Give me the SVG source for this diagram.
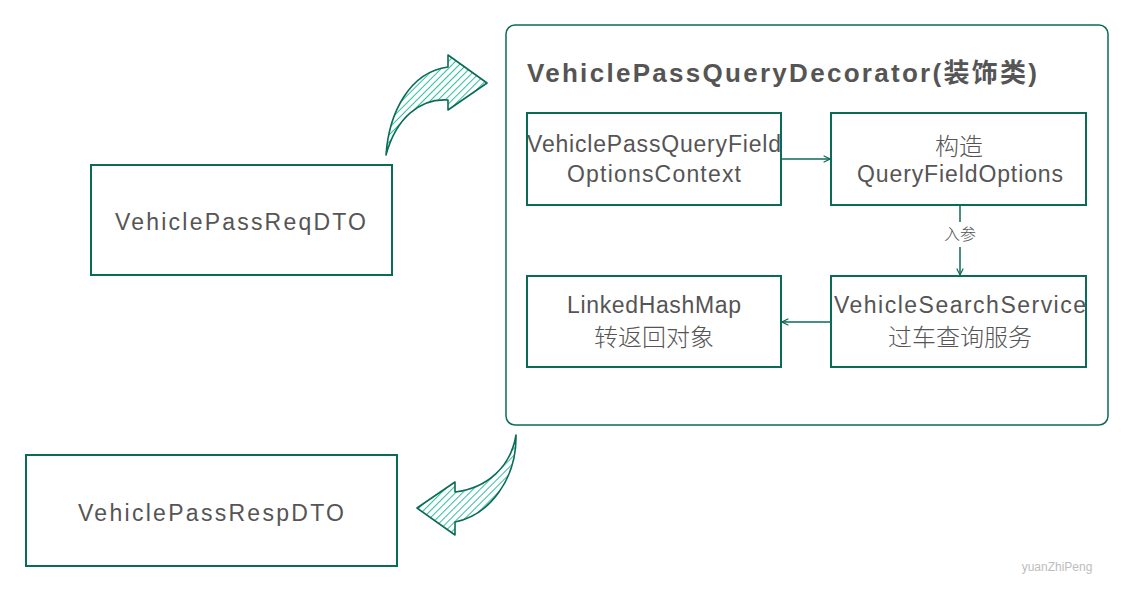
<svg xmlns="http://www.w3.org/2000/svg" width="1132" height="602" viewBox="0 0 1132 602">
<defs>
<style>
.box{fill:#ffffff;stroke:#0b6b57;stroke-width:2}
.t{font-family:"Liberation Sans","Noto Sans CJK SC",sans-serif;fill:#555555;font-size:23px}
.cjk{font-family:"Noto Sans CJK SC","Liberation Sans",sans-serif;fill:#555555;font-size:24px;font-weight:300}
.con{fill:none;stroke:#0b6b57;stroke-width:1.5}
.big{fill:url(#hatch);stroke:#0b6b57;stroke-width:1.6;stroke-linejoin:round}
</style>
<pattern id="hatch" patternUnits="userSpaceOnUse" width="5" height="5" patternTransform="rotate(45)">
<line x1="0" y1="0" x2="0" y2="5" stroke="#30c29c" stroke-width="2"/>
</pattern>
<marker id="arr" viewBox="0 0 10 10" refX="9" refY="5" markerWidth="8" markerHeight="8" markerUnits="userSpaceOnUse" orient="auto">
<path d="M1,1 L9,5 L1,9" fill="none" stroke="#0b6b57" stroke-width="1.5"/>
</marker>
</defs>
<rect width="1132" height="602" fill="#ffffff"/>

<g id="container">
<rect x="506" y="25" width="602" height="400" rx="9" ry="9" fill="none" stroke="#0b6b57" stroke-width="1.5"/>
<text x="527" y="82" class="t" style="font-size:26px;font-weight:bold" textLength="510">VehiclePassQueryDecorator(装饰类)</text>
</g>

<g id="reqDTO">
<rect class="box" x="91" y="165" width="301" height="110"/>
<text x="115" y="230" class="t" textLength="251">VehiclePassReqDTO</text>
</g>

<g id="respDTO">
<rect class="box" x="26" y="455" width="371" height="111"/>
<text x="78" y="521" class="t" textLength="266">VehiclePassRespDTO</text>
</g>

<g id="fieldOptionsContext">
<rect class="box" x="527" y="113" width="254" height="92"/>
<text x="527" y="152" class="t" textLength="254">VehiclePassQueryField</text>
<text x="567" y="182" class="t" textLength="174">OptionsContext</text>
</g>

<g id="buildOptions">
<rect class="box" x="831" y="113" width="255" height="92"/>
<text x="959" y="155" class="cjk" text-anchor="middle">构造</text>
<text x="857" y="182" class="t" textLength="206">QueryFieldOptions</text>
</g>

<g id="linkedHashMap">
<rect class="box" x="527" y="276" width="254" height="91"/>
<text x="567" y="313" class="t" textLength="174">LinkedHashMap</text>
<text x="654" y="346" class="cjk" text-anchor="middle">转返回对象</text>
</g>

<g id="searchService">
<rect class="box" x="831" y="276" width="255" height="91"/>
<text x="834" y="313" class="t" textLength="252">VehicleSearchService</text>
<text x="960" y="346" class="cjk" text-anchor="middle">过车查询服务</text>
</g>

<g id="connectors">
<line class="con" x1="781" y1="159" x2="830" y2="159" marker-end="url(#arr)"/>
<line class="con" x1="960" y1="205" x2="960" y2="222"/>
<line class="con" x1="960" y1="247" x2="960" y2="275" marker-end="url(#arr)"/>
<text x="960" y="240" class="cjk" style="font-size:16px" text-anchor="middle">入参</text>
<line class="con" x1="831" y1="322" x2="782" y2="322" marker-end="url(#arr)"/>
<path class="big" d="M386,155 C389,112 410,72 448,67 L448,55 L487,83 L448,110 L448,100 C420,98 396,118 386,155 Z"/>
<path class="big" d="M516,435 C517,478 490,515 455,522 L455,535 L417,508 L455,482 L455,492 C488,488 511,466 516,435 Z"/>
</g>

<text x="1057" y="571" style="font-family:'Liberation Sans',sans-serif;font-size:12px;fill:#bdbdbd" text-anchor="middle">yuanZhiPeng</text>
</svg>
